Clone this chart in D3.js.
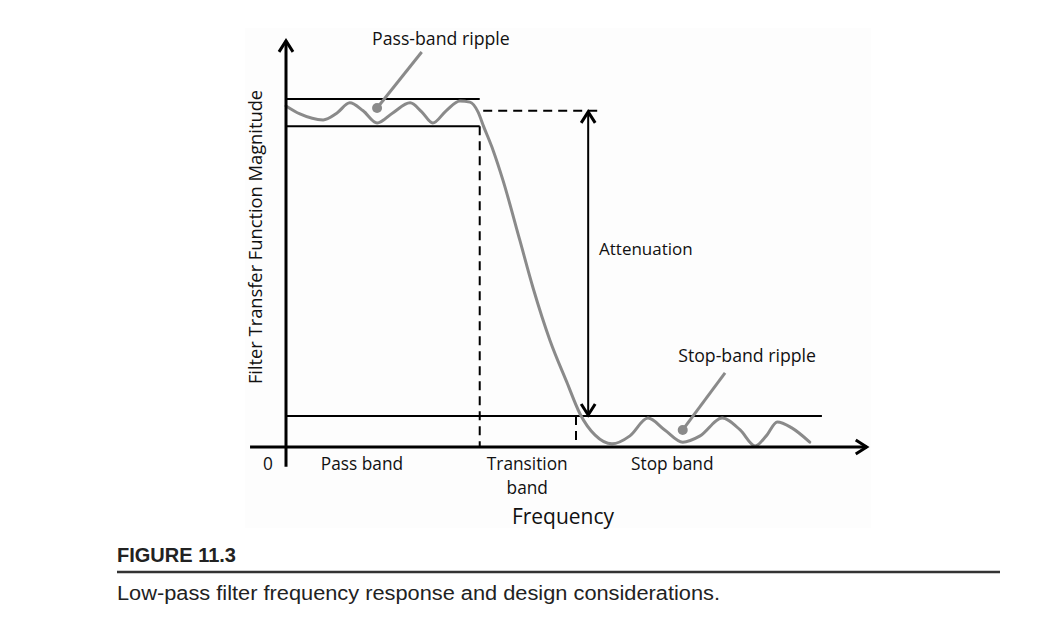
<!DOCTYPE html>
<html>
<head>
<meta charset="utf-8">
<script src="https://cdn.jsdelivr.net/npm/d3@7"></script>
<style>
  html, body { margin: 0; padding: 0; background: #fff; }
  svg { display: block; }
</style>
</head>
<body>
<svg id="chart" width="1049" height="627"></svg>
<script>
// ---------------- DATA ----------------
// Filter response curve: normalized frequency (0–10) vs magnitude (pass-band top = 1)
const responseFreq = [0, 0.24, 0.64, 0.88, 1.10, 1.33, 1.57, 1.84, 2.14, 2.34, 2.53, 2.76, 3.00, 3.17, 3.31, 3.41,
  3.57, 3.74, 4.03, 4.26, 4.55, 4.84, 5.07, 5.33, 5.62, 5.93, 6.24, 6.53, 6.84, 7.14, 7.52, 7.83, 8.09, 8.28, 8.47, 8.72, 9.03];
const responseMag = [0.980, 0.957, 0.940, 0.960, 0.989, 0.966, 0.931, 0.960, 0.989, 0.963, 0.931, 0.966, 0.994, 0.991, 0.963, 0.920,
  0.853, 0.767, 0.595, 0.457, 0.307, 0.187, 0.095, 0.034, 0.009, 0.032, 0.083, 0.049, 0.014, 0.032, 0.083, 0.049, 0.003, 0.032, 0.072, 0.055, 0.014];

// Design levels
const passUpper = 1.0;
const passLower = 0.922;
const stopLevel = 0.089;
const attenTop = 0.966;
const passEdge = 3.34;     // end of pass band
const stopEdge = 5.0;      // start of stop band
const stopLineEnd = 9.24;
const attenX = 5.21;
const attenDashEnd = 5.38;

// Axis extents
const xExtent = [-0.62, 10.03];
const yExtent = [-0.057, 1.17];

// Band labels along the frequency axis
const bandLabels = ["0", "Pass band", "Transition|band", "Stop band"];
const bandLabelFreq = [-0.31, 1.31, 4.16, 6.66];

// Ripple annotations: dot (freq, mag), leader end, label
const annoLabels = ["Pass-band ripple", "Stop-band ripple"];
const annoDot = [[1.57, 0.974], [6.84, 0.049]];
const annoEnd = [[2.34, 1.135], [7.57, 0.213]];
const annoText = [[2.67, 1.155], [7.95, 0.244]];

const xTitle = "Frequency";
const yTitle = "Filter Transfer Function Magnitude";
const attenLabel = "Attenuation";
const figTitle = "FIGURE 11.3";
const figCaption = "Low-pass filter frequency response and design considerations.";

// ---------------- DRAW ----------------
const svg = d3.select("#chart");
const x = d3.scaleLinear().domain([0, 10]).range([286, 866]);
const y = d3.scaleLinear().domain([0, 1]).range([447, 99]);

const font = "'Open Sans', 'DejaVu Sans', sans-serif";
const ink = "#111";

svg.append("rect").attr("x", 0).attr("y", 0).attr("width", 1049).attr("height", 627).attr("fill", "#fff");
// faint figure background
svg.append("rect").attr("x", 245).attr("y", 28).attr("width", 626).attr("height", 500).attr("fill", "#fdfdfd");

const g = svg.append("g");

// pass-band limits
[passUpper, passLower].forEach(v => {
  g.append("line").attr("x1", x(0)).attr("x2", x(passEdge)).attr("y1", y(v)).attr("y2", y(v))
    .attr("stroke", "#000").attr("stroke-width", 2);
});
// stop-band limit
g.append("line").attr("x1", x(0)).attr("x2", x(stopLineEnd)).attr("y1", y(stopLevel)).attr("y2", y(stopLevel))
  .attr("stroke", "#000").attr("stroke-width", 2);

// dashed guides
const dash = "9,6";
g.append("line").attr("x1", x(passEdge)).attr("x2", x(passEdge)).attr("y1", y(passLower)).attr("y2", y(0))
  .attr("stroke", "#000").attr("stroke-width", 2).attr("stroke-dasharray", dash);
g.append("line").attr("x1", x(stopEdge)).attr("x2", x(stopEdge)).attr("y1", y(stopLevel)).attr("y2", y(0))
  .attr("stroke", "#000").attr("stroke-width", 2).attr("stroke-dasharray", dash);
g.append("line").attr("x1", x(3.40)).attr("x2", x(attenDashEnd)).attr("y1", y(attenTop)).attr("y2", y(attenTop))
  .attr("stroke", "#000").attr("stroke-width", 2).attr("stroke-dasharray", dash);

// attenuation arrow
g.append("line").attr("x1", x(attenX)).attr("x2", x(attenX)).attr("y1", y(attenTop) + 1).attr("y2", y(stopLevel) - 1)
  .attr("stroke", "#000").attr("stroke-width", 2);
function chevron(px, py, dx, dy, sw) {
  g.append("path")
    .attr("d", `M${px + dx[0]},${py + dy[0]} L${px},${py} L${px + dx[1]},${py + dy[1]}`)
    .attr("fill", "none").attr("stroke", "#000").attr("stroke-width", sw)
    .attr("stroke-linecap", "butt").attr("stroke-linejoin", "miter");
}
chevron(x(attenX), y(attenTop) + 1, [-7, 7], [11, 11], 3);
chevron(x(attenX), y(stopLevel) - 1, [-7, 7], [-11, -11], 3);

// response curve
const pts = responseFreq.map((f, i) => [f, responseMag[i]]);
g.append("path").datum(pts)
  .attr("d", d3.line().x(d => x(d[0])).y(d => y(d[1])).curve(d3.curveMonotoneX))
  .attr("fill", "none").attr("stroke", "#8a8a8a").attr("stroke-width", 3).attr("stroke-linecap", "round");

// axes
g.append("line").attr("x1", x(0)).attr("x2", x(0)).attr("y1", y(yExtent[0])).attr("y2", y(yExtent[1]) + 1)
  .attr("stroke", "#000").attr("stroke-width", 3);
g.append("line").attr("x1", x(xExtent[0])).attr("x2", x(xExtent[1]) - 1).attr("y1", y(0)).attr("y2", y(0))
  .attr("stroke", "#000").attr("stroke-width", 3);
chevron(x(0), y(yExtent[1]) + 1, [-7, 7], [11, 11], 3);
chevron(x(xExtent[1]) - 1, y(0), [-11, -11], [-7, 7], 3);

// annotations
annoLabels.forEach((lab, i) => {
  g.append("line").attr("x1", x(annoDot[i][0])).attr("y1", y(annoDot[i][1]))
    .attr("x2", x(annoEnd[i][0])).attr("y2", y(annoEnd[i][1]))
    .attr("stroke", "#8a8a8a").attr("stroke-width", 3);
  g.append("circle").attr("cx", x(annoDot[i][0])).attr("cy", y(annoDot[i][1])).attr("r", 5).attr("fill", "#8a8a8a");
  g.append("text").attr("x", x(annoText[i][0])).attr("y", y(annoText[i][1]))
    .attr("text-anchor", "middle").attr("font-family", font).attr("font-size", 17.7).attr("fill", ink)
    .text(lab);
});

g.append("text").attr("x", x(attenDashEnd) + 1).attr("y", y(0.552))
  .attr("font-family", font).attr("font-size", 17).attr("fill", ink).text(attenLabel);

// band labels
bandLabels.forEach((lab, i) => {
  const lines = lab.split("|");
  lines.forEach((ln, j) => {
    g.append("text").attr("x", x(bandLabelFreq[i])).attr("y", y(0) + 23 + j * 24)
      .attr("text-anchor", "middle").attr("font-family", font).attr("font-size", 17.3).attr("fill", ink)
      .text(ln);
  });
});

// axis titles
g.append("text").attr("x", 563).attr("y", 524).attr("text-anchor", "middle")
  .attr("font-family", font).attr("font-size", 21).attr("fill", ink).text(xTitle);
g.append("text").attr("transform", "translate(262,237) rotate(-90)").attr("text-anchor", "middle")
  .attr("font-family", font).attr("font-size", 18.3).attr("fill", ink).text(yTitle);

// figure caption
svg.append("text").attr("x", 117).attr("y", 562)
  .attr("font-family", "'Liberation Sans Narrow', 'Liberation Sans', Arial, sans-serif")
  .attr("font-weight", "bold").attr("font-size", 19.5).attr("fill", "#222")
  .attr("textLength", 119).attr("lengthAdjust", "spacingAndGlyphs").text(figTitle);
svg.append("line").attr("x1", 117).attr("x2", 1000).attr("y1", 572).attr("y2", 572)
  .attr("stroke", "#333").attr("stroke-width", 2.5);
svg.append("text").attr("x", 117).attr("y", 600)
  .attr("font-family", "'Liberation Sans Narrow', 'Liberation Sans', Arial, sans-serif")
  .attr("font-size", 20).attr("fill", "#222")
  .attr("textLength", 603).attr("lengthAdjust", "spacingAndGlyphs").text(figCaption);
</script>
</body>
</html>
